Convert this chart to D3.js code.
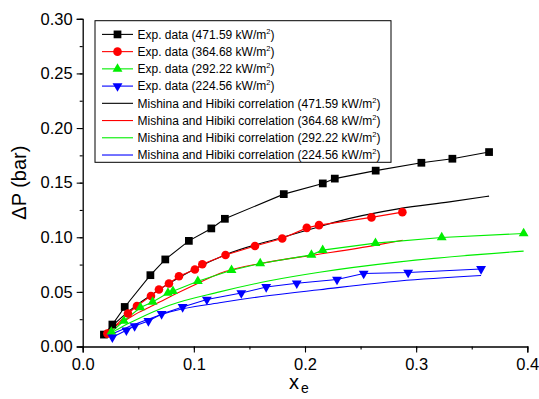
<!DOCTYPE html>
<html>
<head>
<meta charset="utf-8">
<script src="https://cdn.jsdelivr.net/npm/d3@7"></script>
<style>
  html, body { margin: 0; padding: 0; background: #fff; }
  svg { display: block; font-family: "Liberation Sans", Arial, Helvetica, sans-serif; }
</style>
</head>
<body>
<svg id="chart" width="539" height="399"></svg>
<script>
// ---------- Data ----------
const expX_471 = [0.0191, 0.0267, 0.0378, 0.0609, 0.0743, 0.0955, 0.1157, 0.1279, 0.1809, 0.2160, 0.2268, 0.2636, 0.3047, 0.3326, 0.3656];
const expY_471 = [0.0109, 0.0201, 0.0362, 0.0653, 0.0797, 0.0967, 0.1081, 0.1169, 0.1395, 0.1493, 0.1537, 0.1610, 0.1682, 0.1719, 0.1780];

const expX_364 = [0.0222, 0.0407, 0.0488, 0.0614, 0.0686, 0.0776, 0.0866, 0.1009, 0.1076, 0.1285, 0.1550, 0.1795, 0.2016, 0.2126, 0.2598, 0.2876];
const expY_364 = [0.0118, 0.0302, 0.0371, 0.0463, 0.0522, 0.0577, 0.0643, 0.0705, 0.0753, 0.0838, 0.0920, 0.0989, 0.1086, 0.1111, 0.1182, 0.1230];

const expX_292 = [0.0258, 0.0371, 0.0519, 0.0629, 0.0767, 0.0812, 0.1036, 0.1339, 0.1597, 0.2058, 0.2159, 0.2634, 0.3230, 0.3967];
const expY_292 = [0.0133, 0.0234, 0.0357, 0.0408, 0.0490, 0.0506, 0.0598, 0.0698, 0.0760, 0.0839, 0.0882, 0.0946, 0.0998, 0.1035];

const expX_224 = [0.0267, 0.0393, 0.0467, 0.0591, 0.0710, 0.0899, 0.1117, 0.1427, 0.1651, 0.1926, 0.2288, 0.2528, 0.2928, 0.3584];
const expY_224 = [0.0084, 0.0148, 0.0187, 0.0234, 0.0298, 0.0362, 0.0430, 0.0489, 0.0545, 0.0579, 0.0613, 0.0668, 0.0677, 0.0710];

const corX_471 = [0.020, 0.030, 0.040, 0.050, 0.060, 0.070, 0.080, 0.090, 0.100, 0.129, 0.180, 0.213, 0.228, 0.285, 0.330, 0.3656];
const corY_471 = [0.0120, 0.0220, 0.0310, 0.0390, 0.0460, 0.0530, 0.0590, 0.0650, 0.0705, 0.0842, 0.1001, 0.1097, 0.1141, 0.1262, 0.1324, 0.1377];

const corX_364 = [0.0213, 0.030, 0.040, 0.050, 0.060, 0.0782, 0.100, 0.1231, 0.1681, 0.2070, 0.2640, 0.2879];
const corY_364 = [0.0133, 0.0190, 0.0250, 0.0310, 0.0360, 0.0454, 0.0560, 0.0668, 0.0775, 0.0836, 0.0928, 0.0973];

const corX_292 = [0.0213, 0.030, 0.040, 0.050, 0.0782, 0.1231, 0.1681, 0.2130, 0.2849, 0.3967];
const corY_292 = [0.0103, 0.0150, 0.0205, 0.0255, 0.0378, 0.0500, 0.0602, 0.0680, 0.0775, 0.0873];

const corX_224 = [0.0227, 0.030, 0.040, 0.050, 0.0782, 0.1231, 0.1681, 0.2130, 0.2849, 0.3584];
const corY_224 = [0.0093, 0.0130, 0.0175, 0.0215, 0.0316, 0.0400, 0.0467, 0.0520, 0.0600, 0.0650];

const xTicks = [0.0, 0.1, 0.2, 0.3, 0.4];
const xTickLabels = ["0.0", "0.1", "0.2", "0.3", "0.4"];
const yTicks = [0.00, 0.05, 0.10, 0.15, 0.20, 0.25, 0.30];
const yTickLabels = ["0.00", "0.05", "0.10", "0.15", "0.20", "0.25", "0.30"];

const expLabels = ["Exp. data (471.59 kW/m", "Exp. data (364.68 kW/m", "Exp. data (292.22 kW/m", "Exp. data (224.56 kW/m"];
const corLabels = ["Mishina and Hibiki correlation (471.59 kW/m", "Mishina and Hibiki correlation (364.68 kW/m",
                   "Mishina and Hibiki correlation (292.22 kW/m", "Mishina and Hibiki correlation (224.56 kW/m"];
const colors = ["#000000", "#ff0000", "#00ee00", "#0000ff"];

// ---------- Layout ----------
const svg = d3.select("#chart");
const x = d3.scaleLinear().domain([0, 0.4]).range([82.7, 527.3]);
const y = d3.scaleLinear().domain([0, 0.30]).range([346.5, 18.8]);

const symbols = [
  d3.symbol().type(d3.symbolSquare).size(60),
  d3.symbol().type(d3.symbolCircle).size(58),
  d3.symbol().type(d3.symbolTriangle).size(42),
  d3.symbol().type(d3.symbolTriangle).size(42)
];
const rotations = [0, 0, 0, 180];

// ---------- Axes ----------
const xMinor = d3.range(0, 0.4001, 0.05);
const yMinor = d3.range(0, 0.3001, 0.025);

const gx = svg.append("g").attr("transform", `translate(0,${y(0)})`);
gx.call(d3.axisBottom(x).tickValues(xMinor).tickSize(3).tickFormat(""));
gx.call(g => g.select(".domain").remove());
const gx2 = svg.append("g").attr("transform", `translate(0,${y(0)})`);
gx2.call(d3.axisBottom(x).tickValues(xTicks).tickSize(6).tickPadding(6)
  .tickFormat((d, i) => xTickLabels[i]));
gx2.selectAll("text").attr("font-size", 16.5).attr("fill", "#000").style("font-family", "'Liberation Sans', Arial, sans-serif");

const gy = svg.append("g").attr("transform", `translate(${x(0)},0)`);
gy.call(d3.axisLeft(y).tickValues(yMinor).tickSize(3).tickFormat(""));
gy.call(g => g.select(".domain").remove());
const gy2 = svg.append("g").attr("transform", `translate(${x(0)},0)`);
gy2.call(d3.axisLeft(y).tickValues(yTicks).tickSize(6).tickPadding(4)
  .tickFormat((d, i) => yTickLabels[i]));
gy2.selectAll("text").attr("font-size", 16.5).attr("fill", "#000").style("font-family", "'Liberation Sans', Arial, sans-serif");

svg.selectAll(".domain").attr("stroke", "#000").attr("stroke-width", 1.3);
svg.selectAll(".tick line").attr("stroke", "#000").attr("stroke-width", 1.1);

// Axis titles
const xt = svg.append("text")
  .attr("x", x(0.2) - 6).attr("y", 389)
  .attr("text-anchor", "middle").attr("font-size", 20).attr("fill", "#000");
xt.append("tspan").text("x");
xt.append("tspan").attr("font-size", 14).attr("dy", 4).attr("dx", 2).text("e");

svg.append("text")
  .attr("transform", `translate(26,${(y(0) + y(0.3)) / 2}) rotate(-90)`)
  .attr("text-anchor", "middle").attr("font-size", 20).attr("fill", "#000")
  .text("\u0394P (bar)");

// ---------- Series ----------
const corr = [[corX_471, corY_471], [corX_364, corY_364], [corX_292, corY_292], [corX_224, corY_224]];
const exps = [[expX_471, expY_471], [expX_364, expY_364], [expX_292, expY_292], [expX_224, expY_224]];

const smooth = d3.line().x(d => x(d[0])).y(d => y(d[1])).curve(d3.curveMonotoneX);
const straight = d3.line().x(d => x(d[0])).y(d => y(d[1]));

const plot = svg.append("g");
corr.forEach((s, i) => {
  const pts = s[0].map((v, k) => [v, s[1][k]]);
  plot.append("path").attr("d", smooth(pts)).attr("fill", "none")
    .attr("stroke", colors[i]).attr("stroke-width", 1.1);
});
exps.forEach((s, i) => {
  const pts = s[0].map((v, k) => [v, s[1][k]]);
  plot.append("path").attr("d", straight(pts)).attr("fill", "none")
    .attr("stroke", colors[i]).attr("stroke-width", 1.1);
});
exps.forEach((s, i) => {
  const pts = s[0].map((v, k) => [v, s[1][k]]);
  plot.selectAll(null).data(pts).enter().append("path")
    .attr("d", symbols[i])
    .attr("transform", d => `translate(${x(d[0])},${y(d[1])}) rotate(${rotations[i]})`)
    .attr("fill", colors[i]);
});

// ---------- Legend ----------
const leg = svg.append("g");
leg.append("rect").attr("x", 95).attr("y", 20.7).attr("width", 296).attr("height", 141.6)
  .attr("fill", "#fff").attr("stroke", "#000").attr("stroke-width", 1);
const rowY = i => 34.4 + i * 17.23;
const allLabels = expLabels.concat(corLabels);
allLabels.forEach((lab, j) => {
  const ci = j % 4;
  const yy = rowY(j);
  leg.append("line").attr("x1", 102).attr("x2", 133).attr("y1", yy).attr("y2", yy)
    .attr("stroke", colors[ci]).attr("stroke-width", 1.1);
  if (j < 4) {
    leg.append("path").attr("d", symbols[ci])
      .attr("transform", `translate(117.5,${yy}) rotate(${rotations[ci]})`)
      .attr("fill", colors[ci]);
  }
  const t = leg.append("text").attr("x", 137.5).attr("y", yy + 4.3)
    .attr("font-size", 12).attr("fill", "#000");
  t.append("tspan").text(lab);
  t.append("tspan").attr("font-size", 7.5).attr("dy", -5).text("2");
  t.append("tspan").attr("dy", 5).text(")");
});
</script>
</body>
</html>
